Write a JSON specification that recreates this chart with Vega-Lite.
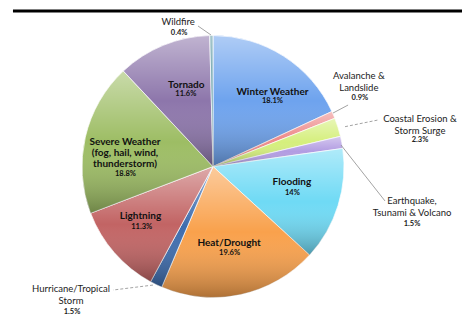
{
  "$schema": "https://vega.github.io/schema/vega-lite/v6.json",
  "width": 426,
  "height": 311,
  "autosize": {"type": "none"},
  "padding": {"left": 0, "top": 11, "right": 36, "bottom": 0},
  "background": "white",
  "config": {"view": {"stroke": null}, "text": {"font": "Lato"}},
  "layer": [
    {
      "data": {
        "values": [
          {"cat": "Winter Weather", "label": "Winter Weather", "share": 0.181},
          {"cat": "Avalanche & Landslide", "label": "Avalanche &\nLandslide", "share": 0.009},
          {"cat": "Coastal Erosion & Storm Surge", "label": "Coastal Erosion &\nStorm Surge", "share": 0.023},
          {"cat": "Earthquake, Tsunami & Volcano", "label": "Earthquake,\nTsunami & Volcano", "share": 0.015},
          {"cat": "Flooding", "label": "Flooding", "share": 0.14},
          {"cat": "Heat/Drought", "label": "Heat/Drought", "share": 0.196},
          {"cat": "Hurricane/Tropical Storm", "label": "Hurricane/Tropical\nStorm", "share": 0.015},
          {"cat": "Lightning", "label": "Lightning", "share": 0.113},
          {"cat": "Severe Weather", "label": "Severe Weather\n(fog, hail, wind,\nthunderstorm)", "share": 0.188},
          {"cat": "Tornado", "label": "Tornado", "share": 0.116},
          {"cat": "Wildfire", "label": "Wildfire", "share": 0.004}
        ]
      },
      "transform": [{"window": [{"op": "row_number", "as": "idx"}]}],
      "encoding": {
        "theta": {"field": "share", "type": "quantitative", "stack": true},
        "order": {"field": "idx", "type": "quantitative"}
      },
      "layer": [
        {
          "mark": {"type": "arc", "outerRadius": 131, "stroke": "white", "strokeWidth": 0.7},
          "encoding": {
            "color": {
              "field": "cat",
              "type": "nominal",
              "legend": null,
              "scale": {
                "domain": ["Winter Weather", "Avalanche & Landslide", "Coastal Erosion & Storm Surge", "Earthquake, Tsunami & Volcano", "Flooding", "Heat/Drought", "Hurricane/Tropical Storm", "Lightning", "Severe Weather", "Tornado", "Wildfire"],
                "range": ["#6ea3ee", "#ee8a8a", "#d5ef7c", "#b29ce2", "#6fdaf5", "#f9a14c", "#3d6cae", "#c26464", "#9dbd64", "#8d76ab", "#5d99a5"]
              }
            }
          }
        },
        {
          "mark": {
            "type": "arc",
            "outerRadius": 131,
            "strokeWidth": 0,
            "fill": {
              "gradient": "linear", "x1": 0, "y1": 0, "x2": 0, "y2": 1,
              "stops": [
                {"offset": 0, "color": "rgba(255,255,255,0.45)"},
                {"offset": 0.5, "color": "rgba(255,255,255,0)"},
                {"offset": 1, "color": "rgba(0,0,0,0.3)"}
              ]
            }
          }
        },
        {
          "mark": {"type": "text", "radius": 90, "dx": 11, "dy": 5.9, "baseline": "bottom", "fontSize": 10, "fontWeight": "bold", "lineBreak": "\n", "lineHeight": 11, "fill": "#111"},
          "encoding": {"text": {"condition": {"test": "datum.cat === 'Winter Weather'", "field": "label", "type": "nominal"}, "value": ""}}
        },
        {
          "mark": {"type": "text", "radius": 90, "dx": 11, "dy": 10.8, "baseline": "middle", "fontSize": 7.5, "fontWeight": "bold", "fill": "#111"},
          "encoding": {"text": {"condition": {"test": "datum.cat === 'Winter Weather'", "field": "share", "type": "quantitative", "format": ".1~%"}, "value": ""}}
        },
        {
          "mark": {"type": "text", "radius": 90, "dx": -7, "dy": -6.1, "baseline": "bottom", "fontSize": 10, "fontWeight": "bold", "lineBreak": "\n", "lineHeight": 11, "fill": "#111"},
          "encoding": {"text": {"condition": {"test": "datum.cat === 'Flooding'", "field": "label", "type": "nominal"}, "value": ""}}
        },
        {
          "mark": {"type": "text", "radius": 90, "dx": -6.5, "dy": -0.7, "baseline": "middle", "fontSize": 7.5, "fontWeight": "bold", "fill": "#111"},
          "encoding": {"text": {"condition": {"test": "datum.cat === 'Flooding'", "field": "share", "type": "quantitative", "format": ".1~%"}, "value": ""}}
        },
        {
          "mark": {"type": "text", "radius": 90, "dx": -3, "dy": -6.4, "baseline": "bottom", "fontSize": 10, "fontWeight": "bold", "lineBreak": "\n", "lineHeight": 11, "fill": "#111"},
          "encoding": {"text": {"condition": {"test": "datum.cat === 'Heat/Drought'", "field": "label", "type": "nominal"}, "value": ""}}
        },
        {
          "mark": {"type": "text", "radius": 90, "dx": -2.5, "dy": -1.2, "baseline": "middle", "fontSize": 7.5, "fontWeight": "bold", "fill": "#111"},
          "encoding": {"text": {"condition": {"test": "datum.cat === 'Heat/Drought'", "field": "share", "type": "quantitative", "format": ".1~%"}, "value": ""}}
        },
        {
          "mark": {"type": "text", "radius": 90, "dx": -4.8, "dy": -4.4, "baseline": "bottom", "fontSize": 10, "fontWeight": "bold", "lineBreak": "\n", "lineHeight": 11, "fill": "#111"},
          "encoding": {"text": {"condition": {"test": "datum.cat === 'Lightning'", "field": "label", "type": "nominal"}, "value": ""}}
        },
        {
          "mark": {"type": "text", "radius": 90, "dx": -3.6, "dy": 1.2, "baseline": "middle", "fontSize": 7.5, "fontWeight": "bold", "fill": "#111"},
          "encoding": {"text": {"condition": {"test": "datum.cat === 'Lightning'", "field": "share", "type": "quantitative", "format": ".1~%"}, "value": ""}}
        },
        {
          "mark": {"type": "text", "radius": 90, "dx": -0.3, "dy": 0.3, "baseline": "bottom", "fontSize": 10, "fontWeight": "bold", "lineBreak": "\n", "lineHeight": 11, "fill": "#111"},
          "encoding": {"text": {"condition": {"test": "datum.cat === 'Severe Weather'", "field": "label", "type": "nominal"}, "value": ""}}
        },
        {
          "mark": {"type": "text", "radius": 90, "dx": 0.2, "dy": 27.7, "baseline": "middle", "fontSize": 7.5, "fontWeight": "bold", "fill": "#111"},
          "encoding": {"text": {"condition": {"test": "datum.cat === 'Severe Weather'", "field": "share", "type": "quantitative", "format": ".1~%"}, "value": ""}}
        },
        {
          "mark": {"type": "text", "radius": 90, "dx": 7.5, "dy": 6.4, "baseline": "bottom", "fontSize": 10, "fontWeight": "bold", "lineBreak": "\n", "lineHeight": 11, "fill": "#111"},
          "encoding": {"text": {"condition": {"test": "datum.cat === 'Tornado'", "field": "label", "type": "nominal"}, "value": ""}}
        },
        {
          "mark": {"type": "text", "radius": 90, "dx": 7, "dy": 10.8, "baseline": "middle", "fontSize": 7.5, "fontWeight": "bold", "fill": "#111"},
          "encoding": {"text": {"condition": {"test": "datum.cat === 'Tornado'", "field": "share", "type": "quantitative", "format": ".1~%"}, "value": ""}}
        },
        {
          "mark": {"type": "text", "radius": 150, "dx": 8, "dy": -26.8, "baseline": "bottom", "fontSize": 9.5, "lineBreak": "\n", "lineHeight": 12, "fill": "#222"},
          "encoding": {"text": {"condition": {"test": "datum.cat === 'Avalanche & Landslide'", "field": "label", "type": "nominal"}, "value": ""}}
        },
        {
          "mark": {"type": "text", "radius": 150, "dx": 9, "dy": -9.1, "baseline": "middle", "fontSize": 7.5, "fontWeight": "bold", "fill": "#222"},
          "encoding": {"text": {"condition": {"test": "datum.cat === 'Avalanche & Landslide'", "field": "share", "type": "quantitative", "format": ".1~%"}, "value": ""}}
        },
        {
          "mark": {"type": "text", "radius": 150, "dx": 63.9, "dy": 2.3, "baseline": "bottom", "fontSize": 9.5, "lineBreak": "\n", "lineHeight": 12, "fill": "#222"},
          "encoding": {"text": {"condition": {"test": "datum.cat === 'Coastal Erosion & Storm Surge'", "field": "label", "type": "nominal"}, "value": ""}}
        },
        {
          "mark": {"type": "text", "radius": 150, "dx": 63.9, "dy": 18.8, "baseline": "middle", "fontSize": 7.5, "fontWeight": "bold", "fill": "#222"},
          "encoding": {"text": {"condition": {"test": "datum.cat === 'Coastal Erosion & Storm Surge'", "field": "share", "type": "quantitative", "format": ".1~%"}, "value": ""}}
        },
        {
          "mark": {"type": "text", "radius": 150, "dx": 51.6, "dy": 67.4, "baseline": "bottom", "fontSize": 9.5, "lineBreak": "\n", "lineHeight": 12, "fill": "#222"},
          "encoding": {"text": {"condition": {"test": "datum.cat === 'Earthquake, Tsunami & Volcano'", "field": "label", "type": "nominal"}, "value": ""}}
        },
        {
          "mark": {"type": "text", "radius": 150, "dx": 51.6, "dy": 85.1, "baseline": "middle", "fontSize": 7.5, "fontWeight": "bold", "fill": "#222"},
          "encoding": {"text": {"condition": {"test": "datum.cat === 'Earthquake, Tsunami & Volcano'", "field": "share", "type": "quantitative", "format": ".1~%"}, "value": ""}}
        },
        {
          "mark": {"type": "text", "radius": 150, "dx": -76.9, "dy": -7.3, "baseline": "bottom", "fontSize": 9.5, "lineBreak": "\n", "lineHeight": 12, "fill": "#222"},
          "encoding": {"text": {"condition": {"test": "datum.cat === 'Hurricane/Tropical Storm'", "field": "label", "type": "nominal"}, "value": ""}}
        },
        {
          "mark": {"type": "text", "radius": 150, "dx": -75.9, "dy": 9.9, "baseline": "middle", "fontSize": 7.5, "fontWeight": "bold", "fill": "#222"},
          "encoding": {"text": {"condition": {"test": "datum.cat === 'Hurricane/Tropical Storm'", "field": "share", "type": "quantitative", "format": ".1~%"}, "value": ""}}
        },
        {
          "mark": {"type": "text", "radius": 150, "dx": -33, "dy": 10.3, "baseline": "bottom", "fontSize": 9.5, "lineBreak": "\n", "lineHeight": 12, "fill": "#222"},
          "encoding": {"text": {"condition": {"test": "datum.cat === 'Wildfire'", "field": "label", "type": "nominal"}, "value": ""}}
        },
        {
          "mark": {"type": "text", "radius": 150, "dx": -32, "dy": 16.5, "baseline": "middle", "fontSize": 7.5, "fontWeight": "bold", "fill": "#222"},
          "encoding": {"text": {"condition": {"test": "datum.cat === 'Wildfire'", "field": "share", "type": "quantitative", "format": ".1~%"}, "value": ""}}
        }
      ]
    },
    {
      "data": {"values": [{}]},
      "mark": {"type": "rule", "stroke": "black", "strokeWidth": 3},
      "encoding": {
        "x": {"datum": -1.527, "type": "quantitative", "scale": {"domain": [-1.626, 1.626], "nice": false, "zero": false}, "axis": null},
        "x2": {"datum": 1.901},
        "y": {"datum": 1.187, "type": "quantitative", "scale": {"domain": [-1.187, 1.187], "nice": false, "zero": false}, "axis": null}
      }
    },
    {
      "data": {"values": [{}]},
      "mark": {"type": "rule", "stroke": "#8c8c8c", "strokeWidth": 0.8},
      "encoding": {
        "x": {"datum": -0.1145, "type": "quantitative", "scale": {"domain": [-1.626, 1.626], "nice": false, "zero": false}, "axis": null},
        "x2": {"datum": -0.0153},
        "y": {"datum": 1.0725, "type": "quantitative", "scale": {"domain": [-1.187, 1.187], "nice": false, "zero": false}, "axis": null},
        "y2": {"datum": 1.0038}
      }
    },
    {
      "data": {"values": [{}]},
      "mark": {"type": "rule", "stroke": "#8c8c8c", "strokeWidth": 0.8},
      "encoding": {
        "x": {"datum": 0.916, "type": "quantitative", "scale": {"domain": [-1.626, 1.626], "nice": false, "zero": false}, "axis": null},
        "x2": {"datum": 1.031},
        "y": {"datum": 0.408, "type": "quantitative", "scale": {"domain": [-1.187, 1.187], "nice": false, "zero": false}, "axis": null},
        "y2": {"datum": 0.469}
      }
    },
    {
      "data": {"values": [{}]},
      "mark": {"type": "rule", "stroke": "#8c8c8c", "strokeWidth": 0.8, "strokeDash": [3, 2]},
      "encoding": {
        "x": {"datum": 1.008, "type": "quantitative", "scale": {"domain": [-1.626, 1.626], "nice": false, "zero": false}, "axis": null},
        "x2": {"datum": 1.26},
        "y": {"datum": 0.304, "type": "quantitative", "scale": {"domain": [-1.187, 1.187], "nice": false, "zero": false}, "axis": null},
        "y2": {"datum": 0.355}
      }
    },
    {
      "data": {"values": [{}]},
      "mark": {"type": "rule", "stroke": "#8c8c8c", "strokeWidth": 0.8},
      "encoding": {
        "x": {"datum": 0.977, "type": "quantitative", "scale": {"domain": [-1.626, 1.626], "nice": false, "zero": false}, "axis": null},
        "x2": {"datum": 1.313},
        "y": {"datum": 0.164, "type": "quantitative", "scale": {"domain": [-1.187, 1.187], "nice": false, "zero": false}, "axis": null},
        "y2": {"datum": -0.263}
      }
    },
    {
      "data": {"values": [{}]},
      "mark": {"type": "rule", "stroke": "#8c8c8c", "strokeWidth": 0.8, "strokeDash": [3, 2]},
      "encoding": {
        "x": {"datum": -0.458, "type": "quantitative", "scale": {"domain": [-1.626, 1.626], "nice": false, "zero": false}, "axis": null},
        "x2": {"datum": -0.763},
        "y": {"datum": -0.905, "type": "quantitative", "scale": {"domain": [-1.187, 1.187], "nice": false, "zero": false}, "axis": null},
        "y2": {"datum": -0.943}
      }
    }
  ]
}
